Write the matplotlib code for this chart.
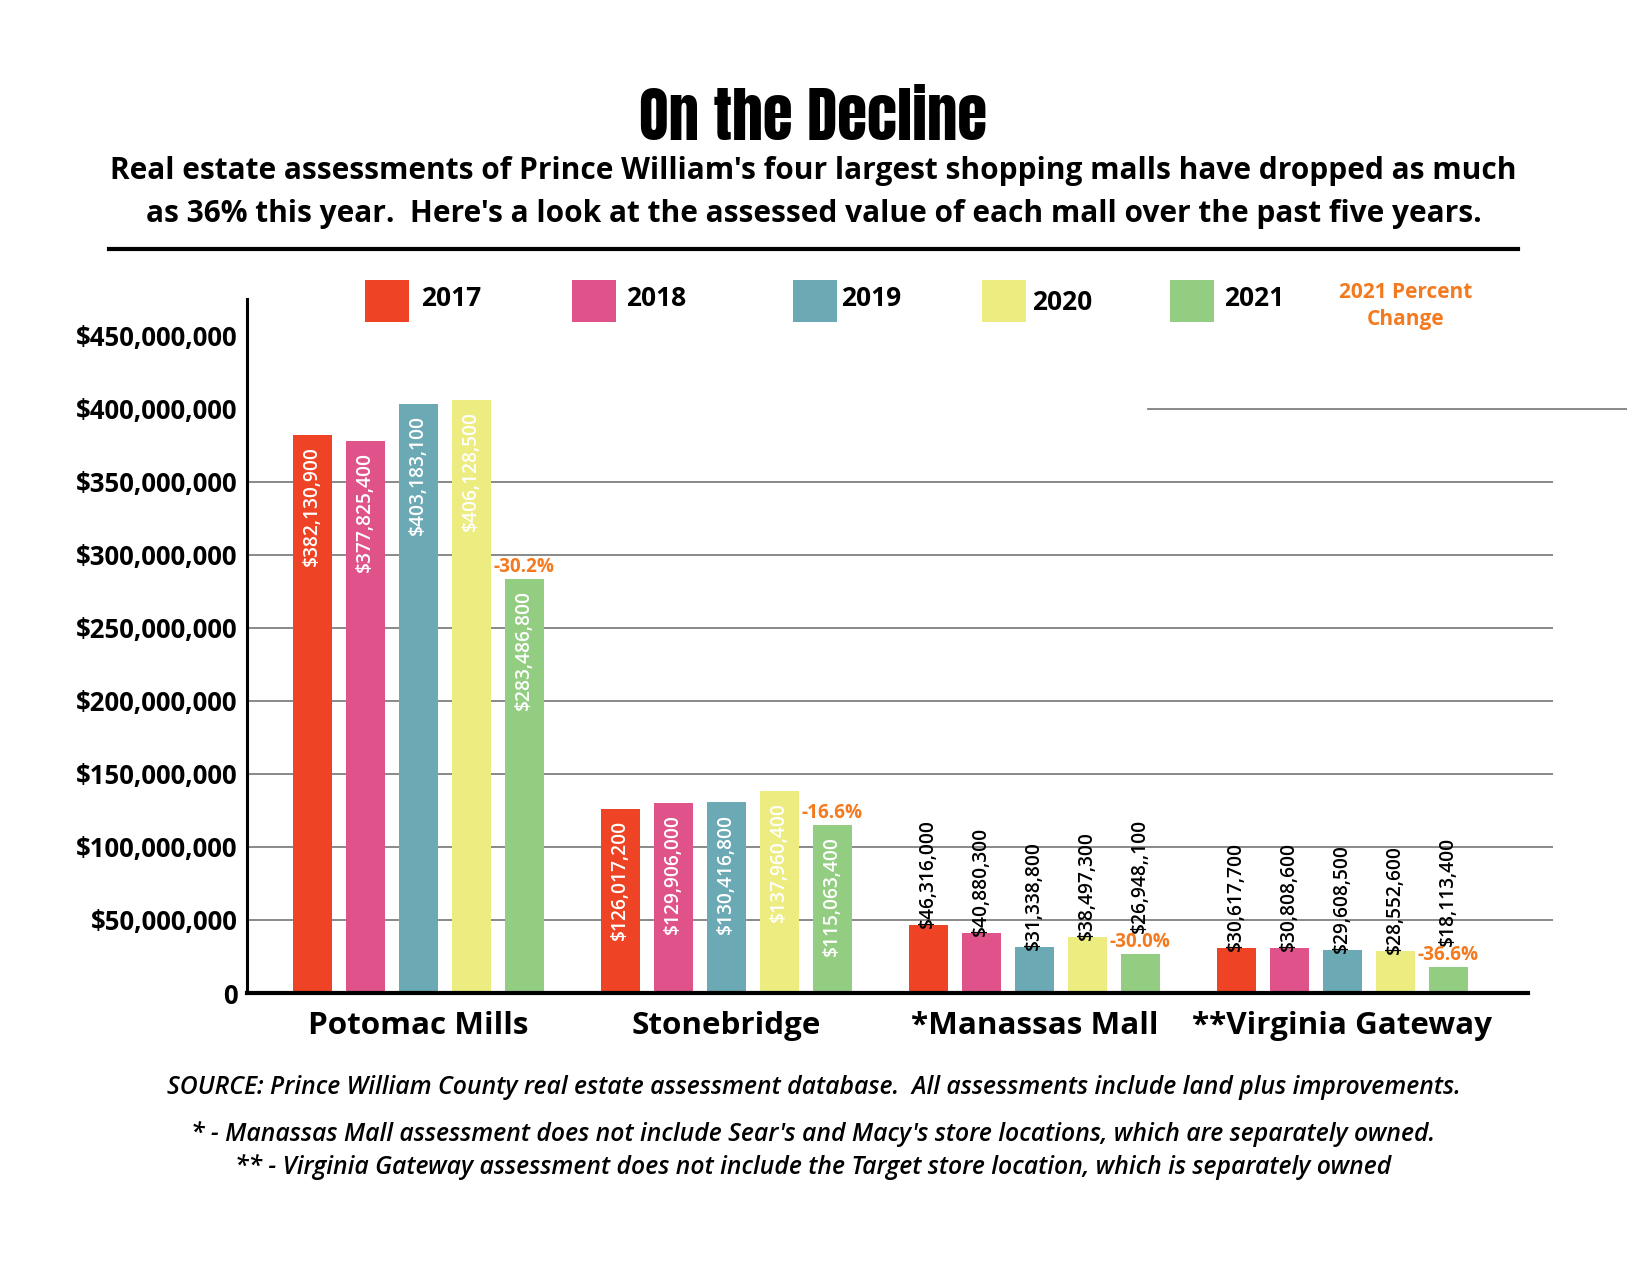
import matplotlib

matplotlib.use("Agg")
import matplotlib.pyplot as plt
import numpy as np
from matplotlib.patches import Rectangle

W, H = 1627, 1273

malls = ["Potomac Mills", "Stonebridge", "*Manassas Mall", "**Virginia Gateway"]
years = ["2017", "2018", "2019", "2020", "2021"]
values_2017 = [382130900, 126017200, 46316000, 30617700]
values_2018 = [377825400, 129906000, 40880300, 30808600]
values_2019 = [403183100, 130416800, 31338800, 29608500]
values_2020 = [406128500, 137960400, 38497300, 28552600]
values_2021 = [283486800, 115063400, 26948100, 18113400]
# 2021 labels as printed in the source graphic (including its double comma)
labels_2021 = ["$283,486,800", "$115,063,400", "$26,948,,100", "$18,113,400"]
pct_change = ["-30.2%", "-16.6%", "-30.0%", "-36.6%"]
y_ticks = [0, 50e6, 100e6, 150e6, 200e6, 250e6, 300e6, 350e6, 400e6, 450e6]

COLORS = ["#ee4425", "#e0528a", "#6ba9b4", "#ecec80", "#93cd82"]
ORANGE = "#f47a20"
SANS = ["Open Sans", "DejaVu Sans"]
HEAVY = ["Anton", "DejaVu Sans"]


def fx(px):
    return px / W


def fy(py):
    return 1 - py / H


fig = plt.figure(figsize=(W / 100, H / 100), dpi=100)
fig.patch.set_facecolor("white")

# header
fig.text(0.5, fy(117), "On the Decline", ha="center", va="center",
         family=HEAVY, stretch="condensed", weight="bold", fontsize=44)
fig.text(0.5, fy(171), "Real estate assessments of Prince William's four largest shopping malls have dropped as much",
         ha="center", va="center", family=SANS, weight="bold", fontsize=21.5)
fig.text(0.5, fy(214), "as 36% this year.  Here's a look at the assessed value of each mall over the past five years.",
         ha="center", va="center", family=SANS, weight="bold", fontsize=21.5)
fig.add_artist(plt.Line2D([fx(109), fx(1518)], [fy(249), fy(249)], color="black", lw=3,
                          transform=fig.transFigure))

# legend
sq_x = [365, 572, 793, 982, 1170]
txt_x = [421, 626, 841, 1032, 1224]
txt_y = [298, 298, 298, 303, 298]
for year, color, sx, tx, ty in zip(years, COLORS, sq_x, txt_x, txt_y):
    fig.add_artist(Rectangle((fx(sx), fy(322)), fx(44), 42 / H, facecolor=color,
                             edgecolor="none", transform=fig.transFigure))
    fig.text(fx(tx), fy(ty), year, ha="left", va="center", family=SANS, weight="bold", fontsize=19)
fig.text(fx(1406), fy(306), "2021 Percent\nChange", ha="center", va="center", family=SANS,
         weight="bold", fontsize=15, color=ORANGE, linespacing=1.35)

# chart
ax = fig.add_axes([fx(247), fy(993), fx(1553) - fx(247), fy(299) - fy(993)])
series = [values_2017, values_2018, values_2019, values_2020, values_2021]
x = np.arange(len(malls))
step, width = 0.172, 0.128
for i, (vals, color) in enumerate(zip(series, COLORS)):
    xs = x + (i - 2) * step
    ax.bar(xs, vals, width=width, color=color, zorder=3)
    labels = labels_2021 if i == 4 else [f"${v:,}" for v in vals]
    for xi, v, lab in zip(xs, vals, labels):
        if v > 100e6:
            ax.annotate(lab, (xi, v), xytext=(0, -8), textcoords="offset points", rotation=90,
                        ha="center", va="top", color="white", family=SANS, weight="semibold",
                        fontsize=13.8, zorder=4)
        else:
            # the 2021 label sits above the percent-change note
            lift = 15 if i == 4 else -2
            ax.annotate(lab, (xi, v), xytext=(0, lift), textcoords="offset points", rotation=90,
                        ha="center", va="bottom", color="black", family=SANS, weight="semibold",
                        fontsize=13.8, zorder=4)
    if i == 4:
        for xi, v, pct in zip(xs, vals, pct_change):
            ax.annotate(pct, (xi, v), xytext=(0, 1), textcoords="offset points", ha="center",
                        va="bottom", color=ORANGE, family=SANS, weight="bold", fontsize=13.6, zorder=4)

for t in y_ticks:
    if 0 < t < 400e6:
        ax.axhline(t, color="#808080", lw=1.3, zorder=1)
ax.axhline(400e6, xmin=0.69, xmax=1.06, color="#808080", lw=1.3, zorder=1, clip_on=False)

ax.set_xlim(-0.556, 3.684)
ax.set_ylim(0, 475e6)
ax.set_yticks(y_ticks)
ax.set_yticklabels(["0" if t == 0 else f"${int(t):,}" for t in y_ticks],
                   family=SANS, weight="bold", fontsize=18.5)
ax.set_xticks(x)
ax.set_xticklabels(malls, family=SANS, weight="bold", fontsize=22.6)
ax.tick_params(axis="y", length=0, pad=7)
ax.tick_params(axis="x", length=0, pad=13)
for side in ["top", "right"]:
    ax.spines[side].set_visible(False)
ax.spines["left"].set_linewidth(2.2)
ax.spines["bottom"].set_linewidth(3)
ax.spines["bottom"].set_bounds(-0.556, 3.603)
ax.spines["left"].set_zorder(5)
ax.spines["bottom"].set_zorder(5)

# footer
foot_kw = dict(ha="center", va="center", family=SANS, style="italic", weight="semibold", fontsize=17.8)
fig.text(0.5, fy(1087), "SOURCE: Prince William County real estate assessment database.  All assessments include land plus improvements.", **foot_kw)
fig.text(0.5, fy(1134), "* - Manassas Mall assessment does not include Sear's and Macy's store locations, which are separately owned.", **foot_kw)
fig.text(0.5, fy(1167), "** - Virginia Gateway assessment does not include the Target store location, which is separately owned", **foot_kw)

fig.savefig("out.png", dpi=100)
